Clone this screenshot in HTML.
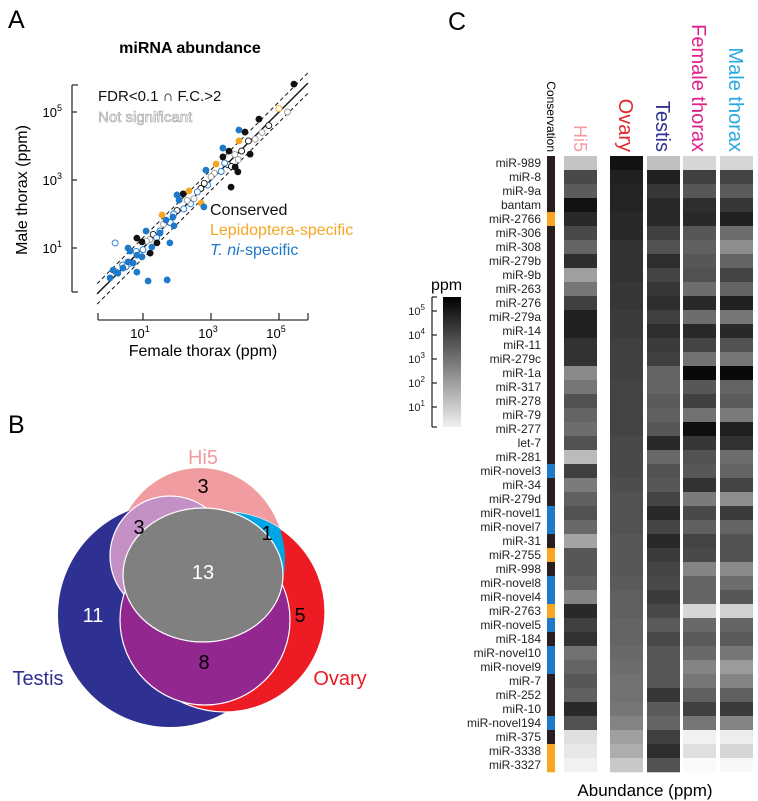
<!DOCTYPE html>
<html><head><meta charset="utf-8"><style>
html,body{margin:0;padding:0;background:#fff;}
svg{display:block;font-family:"Liberation Sans",Arial,sans-serif;}
</style></head><body>
<svg id="fig" width="758" height="801" viewBox="0 0 758 801" xmlns="http://www.w3.org/2000/svg">
<defs>
  <clipPath id="clipH"><ellipse cx="200" cy="560" rx="85" ry="92"/></clipPath>
</defs>
<!-- Panel A -->
<g id="panelA">
  <text x="8" y="28" font-size="25">A</text>
  <text x="190" y="53" font-size="16" font-weight="bold" text-anchor="middle">miRNA abundance</text>
  <text transform="translate(27,190) rotate(-90)" font-size="16" text-anchor="middle">Male thorax (ppm)</text>
  <text x="203" y="356" font-size="16" text-anchor="middle">Female thorax (ppm)</text>
  <g id="axesA"></g>
  <g id="linesA"></g>
  <g id="pointsA"></g>
  <text x="98" y="101" font-size="15" fill="#111">FDR&lt;0.1 ∩ F.C.&gt;2</text>
  <text x="98" y="122" font-size="15" fill="#fff" stroke="#999" stroke-width="0.6">Not significant</text>
  <text x="210" y="215" font-size="16" fill="#111">Conserved</text>
  <text x="210" y="235" font-size="16" fill="#f5a623">Lepidoptera-specific</text>
  <text x="210" y="255" font-size="16" fill="#1f78c8"><tspan font-style="italic">T. ni</tspan>-specific</text>
</g>
<!-- Panel B -->
<g id="panelB">
  <text x="8" y="433" font-size="25">B</text>
  <ellipse cx="200" cy="560" rx="85" ry="92" fill="#f19ca0"/>
  <circle cx="170" cy="615" r="112" fill="#2e3192"/>
  <circle cx="225" cy="612" r="100" fill="#ed1c24" stroke="#fff" stroke-width="1.2"/>
  <circle cx="225" cy="612" r="100" fill="#00a5e6" clip-path="url(#clipH)"/>
  <circle cx="170" cy="556" r="60" fill="#c490c6" stroke="#fff" stroke-width="1.2"/>
  <circle cx="205" cy="620" r="85" fill="#92278f" stroke="#fff" stroke-width="1.2"/>
  <ellipse cx="203" cy="575" rx="80" ry="67" fill="#808080" stroke="#fff" stroke-width="1.2"/>
  <text x="203" y="464" font-size="20" fill="#f19ca0" text-anchor="middle">Hi5</text>
  <text x="38" y="685" font-size="20" fill="#2e3192" text-anchor="middle">Testis</text>
  <text x="340" y="685" font-size="20" fill="#ed1c24" text-anchor="middle">Ovary</text>
  <text x="203" y="493" font-size="20" text-anchor="middle">3</text>
  <text x="139" y="534" font-size="20" text-anchor="middle">3</text>
  <text x="267" y="540" font-size="20" text-anchor="middle">1</text>
  <text x="203" y="579" font-size="20" fill="#fff" text-anchor="middle">13</text>
  <text x="93" y="622" font-size="20" fill="#fff" text-anchor="middle">11</text>
  <text x="300" y="622" font-size="20" text-anchor="middle">5</text>
  <text x="204" y="669" font-size="20" text-anchor="middle">8</text>
</g>
<!-- Panel C -->
<g id="panelC">
  <text x="448" y="30" font-size="25">C</text>
  <text transform="translate(547,152) rotate(90)" font-size="12" text-anchor="end">Conservation</text>
  <text transform="translate(574,152) rotate(90)" font-size="18" fill="#f19ca0" text-anchor="end">Hi5</text>
  <text transform="translate(619,152) rotate(90)" font-size="20" fill="#e0262e" text-anchor="end">Ovary</text>
  <text transform="translate(656,152) rotate(90)" font-size="20" fill="#2e3192" text-anchor="end">Testis</text>
  <text transform="translate(692,152) rotate(90)" font-size="20" fill="#e0218a" text-anchor="end">Female thorax</text>
  <text transform="translate(729,152) rotate(90)" font-size="20" fill="#27aae1" text-anchor="end">Male thorax</text>
  <g id="heat"></g>
  <g id="cbar"></g>
  <text x="645" y="796" font-size="17" text-anchor="middle">Abundance (ppm)</text>
</g>
</svg>
<script>
// ---------- Panel A data (log10 ppm) ----------
const sigX = [5.44,4.41,4.0,3.53,3.35,3.71,3.79,4.15,3.59,2.18,0.82,1.41,1.21,0.97,
  3.15,2.35,1.56,2.71,3.82,
  3.82,3.35,2.85,2.0,2.06,2.79,1.88,1.68,1.91,1.09,1.79,0.56,0.62,0.82,1.15,1.71,0.03,0.26,0.41,0.71,0.82,0.56,0.12,0.97,1.26,1.5];
const sigY = [5.82,4.79,4.41,3.85,3.68,3.38,3.24,3.76,2.79,2.59,1.29,1.15,0.85,1.18,
  3.47,2.68,1.97,2.32,4.15,
  4.47,3.94,3.29,2.56,2.41,2.21,1.91,1.82,1.65,1.5,1.15,1.0,0.91,0.79,0.03,0.06,0.12,0.26,0.41,0.56,0.29,0.59,0.35,0.74,1.03,1.44];
const sigCat = ['C','C','C','C','C','C','C','C','C','C','C','C','C','C',
  'L','L','L','L','L',
  'T','T','T','T','T','T','T','T','T','T','T','T','T','T','T','T','T','T','T','T','T','T','T','T','T','T'];
const nsX = [1.5,1.8,2.0,2.2,2.5,2.7,2.9,3.1,3.3,3.5,3.7,3.9,4.3,4.1,5.0,5.25,0.8,1.0,1.2,0.6,0.4,1.3,2.4,3.0,2.6,1.6,4.5,1.9,0.2,3.6,0.18,2.3,3.4,0.9,1.1,0.5,2.8,3.8,4.7,1.4];
const nsY = [1.5,1.75,2.1,2.15,2.45,2.75,2.85,3.2,3.25,3.45,3.75,3.85,4.2,4.15,5.1,5.0,0.9,0.95,1.25,0.55,0.5,1.4,2.3,3.1,2.65,1.7,4.4,2.0,0.3,3.4,1.15,2.4,3.5,0.8,1.2,0.45,2.9,3.6,4.6,1.3];
const nsCat = ['T','T','C','T','N','C','T','N','T','C','N','C','N','C','L','N','T','T','N','T','T','C','T','N','T','N','N','T','T','C','T','N','T','T','N','T','C','N','C','T'];
const axTicksA = ['10','10','10'];
const axExpA = [1,3,5];

// ---------- Panel C data ----------
const mirNames = ['miR-989','miR-8','miR-9a','bantam','miR-2766','miR-306','miR-308','miR-279b','miR-9b','miR-263','miR-276','miR-279a','miR-14','miR-11','miR-279c','miR-1a','miR-317','miR-278','miR-79','miR-277','let-7','miR-281','miR-novel3','miR-34','miR-279d','miR-novel1','miR-novel7','miR-31','miR-2755','miR-998','miR-novel8','miR-novel4','miR-2763','miR-novel5','miR-184','miR-novel10','miR-novel9','miR-7','miR-252','miR-10','miR-novel194','miR-375','miR-3338','miR-3327'];
const conservation = ['C','C','C','C','L','C','C','C','C','C','C','C','C','C','C','C','C','C','C','C','C','C','T','C','C','T','T','C','L','C','T','T','L','T','C','T','T','C','C','C','T','C','L','L'];
const hi5 = [1.3,4.0,3.6,5.2,4.7,4.0,3.4,4.6,2.1,3.0,4.2,4.9,4.9,4.5,4.5,2.6,3.0,3.8,3.4,3.2,3.8,1.5,4.2,2.9,3.5,3.8,3.3,2.0,3.7,3.7,3.5,2.7,4.7,4.2,4.5,3.1,3.4,3.7,3.5,4.7,3.8,0.7,0.5,0.3];
const ovary = [5.2,4.9,4.8,4.8,4.7,4.7,4.5,4.5,4.5,4.4,4.4,4.3,4.3,4.2,4.2,4.2,4.1,4.1,4.1,4.1,4.0,4.0,4.0,3.9,3.8,3.8,3.8,3.7,3.7,3.7,3.6,3.5,3.5,3.4,3.4,3.3,3.2,3.1,3.1,3.0,2.7,2.1,1.8,1.2];
const testis = [1.4,4.9,4.4,4.7,4.7,4.2,3.8,4.6,4.1,4.4,4.6,4.2,4.6,4.3,4.2,3.4,3.4,3.6,3.5,3.7,4.7,3.3,3.8,3.7,4.1,4.7,4.1,4.7,4.3,4.1,4.0,4.3,4.0,3.6,4.0,3.7,3.7,3.7,4.4,3.6,3.4,4.2,4.6,3.8];
const femaleThorax = [0.9,4.2,3.7,4.6,4.7,3.7,3.5,3.7,3.8,3.2,4.7,3.2,4.7,4.1,3.1,5.4,3.7,4.2,3.1,5.3,4.4,3.8,3.7,4.5,2.9,4.0,3.5,4.1,4.0,2.7,3.4,3.4,0.9,3.3,3.6,3.3,2.7,3.0,3.5,4.2,3.0,0.3,0.7,0.1];
const maleThorax = [0.9,4.1,3.6,4.4,4.9,3.2,2.5,3.4,4.1,3.4,4.9,3.0,4.7,3.8,3.0,5.4,3.4,3.6,2.9,4.9,4.5,3.2,3.4,4.1,2.5,4.3,3.4,3.8,3.8,2.6,3.2,3.7,1.0,3.4,3.6,3.0,2.2,2.7,3.5,4.3,2.7,0.4,0.9,0.15];
const cbarExp = [5,4,3,2,1];

const NS='http://www.w3.org/2000/svg';
function mk(tag, attrs, parent){const e=document.createElementNS(NS,tag);for(const k in attrs)e.setAttribute(k,attrs[k]);parent.appendChild(e);return e;}

// ---------- Panel A ----------
const sx = v => 109 + v*34;
const sy = v => 282 - v*34;
const axA = document.getElementById('axesA');
let yl = mk('line',{x1:72,y1:85,x2:72,y2:292,stroke:'#333','stroke-width':1.3},axA);


let xl = mk('line',{x1:98,y1:320,x2:308,y2:320,stroke:'#333','stroke-width':1.3},axA);


[[72,85,78,85],[72,292,78,292],[98,313,98,320],[308,313,308,320]].forEach(t=>{
  const l=mk('line',{x1:t[0],y1:t[1],x2:t[2],y2:t[3],stroke:'#333','stroke-width':1.3},axA);
  
  
});
axExpA.forEach((e,i)=>{
  const ty=sy(e);
  const l=mk('line',{x1:72,y1:ty,x2:77,y2:ty,stroke:'#333','stroke-width':1.3},axA);
  
  
  const t=mk('text',{x:62,y:ty+5,'font-size':13,'text-anchor':'end'},axA);
  
  
  t.textContent=axTicksA[i];
  const s=mk('tspan',{dy:-6,'font-size':9},t); s.textContent=e;
  const tx=sx(e);
  const l2=mk('line',{x1:tx,y1:313,x2:tx,y2:320,stroke:'#333','stroke-width':1.3},axA);
  
  
  const t2=mk('text',{x:tx-3,y:338,'font-size':13,'text-anchor':'middle'},axA);
  
  
  t2.textContent=axTicksA[i];
  const s2=mk('tspan',{dy:-6,'font-size':9},t2); s2.textContent=e;
});
const lg=document.getElementById('linesA');
const off=Math.log10(2);
[[0,'none'],[off,'4,3'],[-off,'4,3']].forEach(d=>{
  const a=-0.35,b=5.85;
  const l=mk('line',{x1:sx(a),y1:sy(a+d[0]),x2:sx(b),y2:sy(b+d[0]),stroke:'#111','stroke-width':d[0]===0?1.4:1,'stroke-dasharray':d[1]},lg);
  
  
});
const catCol={C:'#111',L:'#f5a623',T:'#1f78c8',N:'#999'};
const pg=document.getElementById('pointsA');
nsX.forEach((x,i)=>{
  const c=mk('circle',{cx:sx(x),cy:sy(nsY[i]),r:3,fill:'#fff',stroke:catCol[nsCat[i]],'stroke-width':0.9},pg);
  
  
});
sigX.forEach((x,i)=>{
  const c=mk('circle',{cx:sx(x),cy:sy(sigY[i]),r:3.4,fill:catCol[sigCat[i]]},pg);
  
  
});

// ---------- Panel C ----------
const heat=document.getElementById('heat');
const rowTop=156, rowH=14;
const gray = v => {const g=Math.max(0,Math.min(250,Math.round(255*(1-v/5.6))));return 'rgb('+g+','+g+','+g+')';};
const consCol={C:'#2a1f1f',L:'#f5a623',T:'#1f78c8'};
const cols=[[hi5,564,'hi5'],[ovary,610,'ovary'],[testis,647,'testis'],[femaleThorax,683,'female-thorax'],[maleThorax,720,'male-thorax']];
mirNames.forEach((n,i)=>{
  const y=rowTop+i*rowH;
  const t=mk('text',{x:541,y:y+11,'font-size':12,'text-anchor':'end',fill:'#222'},heat);
  
  
  t.textContent=n;
  const c=mk('rect',{x:547,y:y,width:8,height:rowH+0.3,fill:consCol[conservation[i]]},heat);
  
  
  cols.forEach(col=>{
    const r=mk('rect',{x:col[1],y:y,width:33,height:rowH+0.3,fill:gray(col[0][i])},heat);
    
    
  });
});
// colorbar
const cb=document.getElementById('cbar');
const defs=document.querySelector('defs');
const lgr=mk('linearGradient',{id:'cbg',x1:0,y1:0,x2:0,y2:1},defs);
mk('stop',{offset:0,'stop-color':'#000'},lgr);
mk('stop',{offset:1,'stop-color':'#f0f0f0'},lgr);
const cy = e => 407 - (e-1)*24;
const bar=mk('rect',{x:443,y:297,width:18,height:130,fill:'url(#cbg)'},cb);


const cl=mk('line',{x1:432,y1:297,x2:432,y2:427,stroke:'#222','stroke-width':1.2},cb);


[297,427].forEach(yv=>{const l=mk('line',{x1:432,y1:yv,x2:437,y2:yv,stroke:'#222','stroke-width':1.2},cb);
  
  });
cbarExp.forEach(e=>{
  const y=cy(e);
  const l=mk('line',{x1:432,y1:y,x2:437,y2:y,stroke:'#222','stroke-width':1.2},cb);
  
  
  const t=mk('text',{x:425,y:y+4,'font-size':11,'text-anchor':'end',fill:'#222'},cb);
  
  
  t.textContent='10';
  const s=mk('tspan',{dy:-5,'font-size':8},t); s.textContent=e;
});
const pp=mk('text',{x:431,y:290,'font-size':16},cb);


pp.textContent='ppm';
</script>
</body></html>
